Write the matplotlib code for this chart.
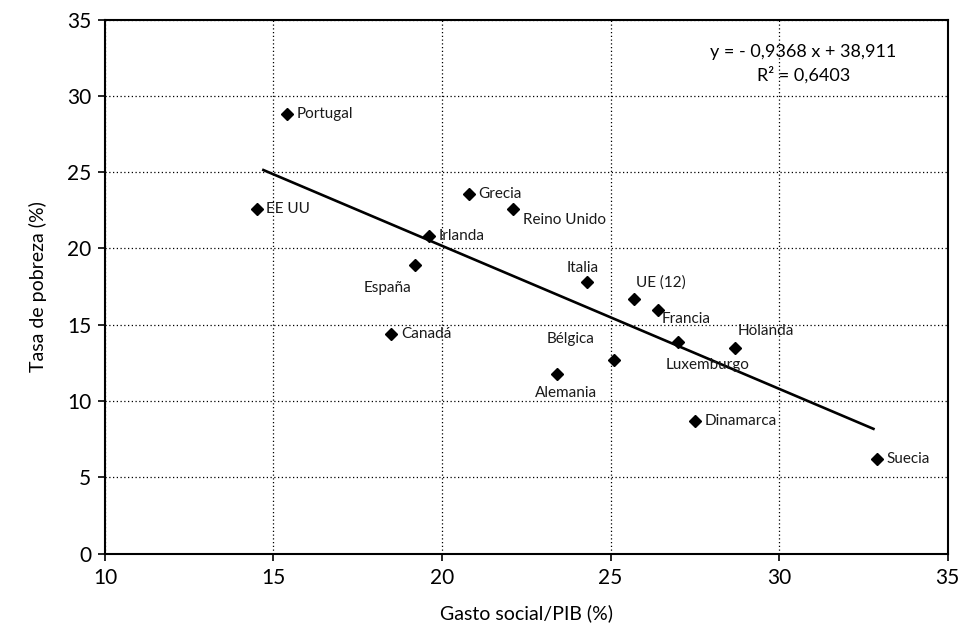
import matplotlib
matplotlib.use("Agg")
import matplotlib.pyplot as plt
import numpy as np

# data
paises = ['Portugal', 'EE UU', 'Grecia', 'Reino Unido', 'Irlanda', 'España',
          'Italia', 'UE (12)', 'Francia', 'Canadá', 'Bélgica', 'Alemania',
          'Luxemburgo', 'Holanda', 'Dinamarca', 'Suecia']
gasto = [15.4, 14.5, 20.8, 22.1, 19.6, 19.2,
         24.3, 25.7, 26.4, 18.5, 25.1, 23.4,
         27.0, 28.7, 27.5, 32.9]
pobreza = [28.8, 22.6, 23.6, 22.6, 20.8, 18.9,
           17.8, 16.7, 16.0, 14.4, 12.7, 11.8,
           13.9, 13.5, 8.7, 6.2]
pendiente = -0.9368
ordenada = 38.911
r2 = 0.6403
x_recta = [14.7, 32.8]

# label offsets (points) and alignment per country
etiquetas = {
    'Portugal': ((7, 0), 'left', 'center'),
    'EE UU': ((7, 0), 'left', 'center'),
    'Grecia': ((7, 0), 'left', 'center'),
    'Reino Unido': ((7, -8), 'left', 'center'),
    'Irlanda': ((7, 0), 'left', 'center'),
    'España': ((-20, -16), 'center', 'center'),
    'Italia': ((-3, 10), 'center', 'center'),
    'UE (12)': ((1, 12), 'left', 'center'),
    'Francia': ((3, -7), 'left', 'center'),
    'Canadá': ((7, 0), 'left', 'center'),
    'Bélgica': ((-31, 15), 'center', 'center'),
    'Alemania': ((7, -14), 'center', 'center'),
    'Luxemburgo': ((21, -17), 'center', 'center'),
    'Holanda': ((22, 12), 'center', 'center'),
    'Dinamarca': ((7, 0), 'left', 'center'),
    'Suecia': ((7, 0), 'left', 'center'),
}

plt.rcParams['font.family'] = ['Lato', 'DejaVu Sans']

fig = plt.figure(figsize=(9.63, 6.3), dpi=100)
ax = fig.add_axes([0.109, 0.121, 0.875, 0.848])

ax.grid(True, color='black', linestyle=(0, (1, 2)), linewidth=0.9)
ax.set_axisbelow(True)

xr = np.array(x_recta)
ax.plot(xr, pendiente * xr + ordenada, color='black', linewidth=1.9, zorder=3)
ax.plot(gasto, pobreza, linestyle='none', marker='D', markersize=6.5,
        color='black', zorder=4)

for nombre, gx, py in zip(paises, gasto, pobreza):
    off, ha, va = etiquetas[nombre]
    ax.annotate(nombre, (gx, py), xytext=off, textcoords='offset points',
                ha=ha, va=va, fontsize=11, color='#1a1a1a')

eq = 'y = - {:.4f} x + {:.3f}'.format(-pendiente, ordenada).replace('.', ',')
ax.text(0.829, 0.940, eq, transform=ax.transAxes, ha='center', va='center',
        fontsize=13)
ax.text(0.829, 0.897, 'R² = {:.4f}'.format(r2).replace('.', ','),
        transform=ax.transAxes, ha='center', va='center', fontsize=13)

ax.set_xlim(10, 35)
ax.set_ylim(0, 35)
ax.set_xticks(range(10, 36, 5))
ax.set_yticks(range(0, 36, 5))
ax.tick_params(direction='out', length=5, width=1.2, labelsize=15, pad=5)
for s in ax.spines.values():
    s.set_linewidth(1.5)

ax.set_xlabel('Gasto social/PIB (%)', fontsize=14, labelpad=12)
ax.set_ylabel('Tasa de pobreza (%)', fontsize=14, labelpad=14)

fig.savefig('out.png', dpi=100)
